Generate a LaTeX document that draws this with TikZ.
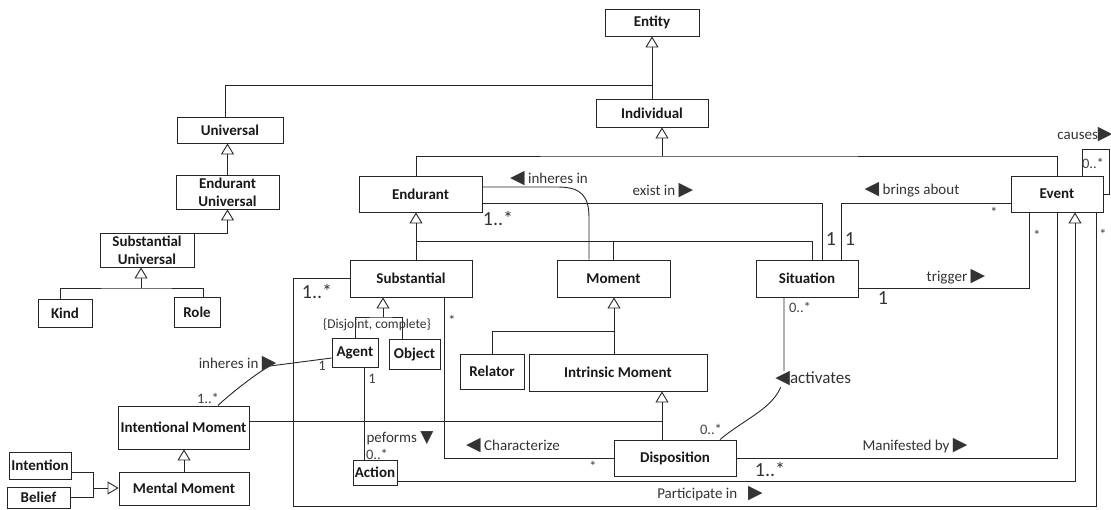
\documentclass[tikz,border=0pt]{standalone}
\usepackage{fontspec}
\setmainfont{Carlito}
\newfontfamily\symfont{DejaVu Sans}
\usepackage{tikz}
\usetikzlibrary{arrows.meta}

\newcommand\rtri{{\symfont\fontsize{19}{19}\selectfont\char"25B6}}
\newcommand\ltri{{\symfont\fontsize{19}{19}\selectfont\char"25C0}}
\newcommand\dtri{{\symfont\fontsize{17}{17}\selectfont\char"25BC}}

\begin{document}
\begin{tikzpicture}[x=1pt, y=-1pt, line width=0.9pt, draw=black!85,
        cls/.style={draw, fill=white, inner sep=0pt, align=center, text=black!90,
            font=\fontsize{15}{18}\selectfont\bfseries},
        lbl/.style={inner sep=0pt, text=black!80, font=\fontsize{15}{18}\selectfont},
        mbig/.style={inner sep=0pt, text=black!80, font=\fontsize{20}{22}\selectfont},
        msml/.style={inner sep=0pt, text=black!75, font=\fontsize{14.5}{16}\selectfont},
        gen/.style={-{Triangle[open, length=11pt, width=13pt]}}]
    \useasboundingbox (0,0) rectangle (1111,509);

    \node[cls, minimum width=94pt, minimum height=27pt] (entity) at (652,22.5) {Entity};
    \node[cls, minimum width=112pt, minimum height=28pt] (individual) at (652,113) {Individual};
    \node[cls, minimum width=106pt, minimum height=26pt] (universal) at (230,130) {Universal};
    \node[cls, minimum width=103pt, minimum height=34pt] (enduniv) at (227.5,192) {Endurant\\Universal};
    \node[cls, minimum width=94pt, minimum height=34pt] (substuniv) at (147,250) {Substantial\\Universal};
    \node[cls, minimum width=54pt, minimum height=28pt] (kind) at (65,313) {Kind};
    \node[cls, minimum width=46pt, minimum height=30pt] (role) at (197,312) {Role};
    \node[cls, minimum width=123pt, minimum height=36pt] (endurant) at (420.5,194) {Endurant};
    \node[cls, minimum width=92pt, minimum height=36pt] (event) at (1057,194) {Event};
    \node[cls, minimum width=122pt, minimum height=37pt] (substantial) at (411,278.5) {Substantial};
    \node[cls, minimum width=113pt, minimum height=37pt] (moment) at (613.5,278.5) {Moment};
    \node[cls, minimum width=102pt, minimum height=37pt] (situation) at (807,278.5) {Situation};
    \node[cls, minimum width=46pt, minimum height=29pt] (agent) at (355,352.5) {Agent};
    \node[cls, minimum width=51pt, minimum height=30pt] (object) at (414.5,354) {Object};
    \node[cls, minimum width=64pt, minimum height=35pt] (relator) at (492,371.5) {Relator};
    \node[cls, minimum width=178pt, minimum height=37pt] (intrinsic) at (618,372.5) {Intrinsic Moment};
    \node[cls, minimum width=131pt, minimum height=43pt] (intentional) at (183.5,427.5) {Intentional Moment};
    \node[cls, minimum width=130pt, minimum height=33pt] (mental) at (184,488.5) {Mental Moment};
    \node[cls, minimum width=62pt, minimum height=27pt] (intention) at (40,465.5) {Intention};
    \node[cls, minimum width=63pt, minimum height=21pt] (belief) at (38.5,497.5) {Belief};
    \node[cls, minimum width=44pt, minimum height=25pt] (action) at (375,472.5) {Action};
    \node[cls, minimum width=122pt, minimum height=36pt] (disposition) at (675,458) {Disposition};

    % generalizations
    \coordinate (unij) at (652,85);
    \coordinate (kr) at (141,288);
    \coordinate (ij) at (662,156);
    \coordinate (ej) at (416,241);
    \coordinate (sj) at (383,317);
    \coordinate (mj) at (614,331);
    \coordinate (dj) at (662,421);
    \coordinate (ib) at (93,488);

    \draw[gen] (individual.north) -- (entity.south);
    \draw ([xshift=-5pt]universal.north) |- (unij);
    \draw[gen] (enduniv.north) -- (enduniv.north |- universal.south);
    \draw[gen] ([yshift=-1pt]substuniv.north east) -| (enduniv.south);
    \draw ([xshift=-5pt]kind.north) |- (kr) -| ([xshift=6pt]role.north);
    \draw[gen] (kr) -- (kr |- substuniv.south);
    \draw ([xshift=-4pt]endurant.north) |- (ij) -| (event.north);
    \draw[gen] (ij) -- (ij |- individual.south);
    \draw ([xshift=5pt]substantial.north) -- (ej) -| ([xshift=5pt]situation.north);
    \draw (moment.north) -- (moment.north |- ej);
    \draw[gen] (ej) -- (ej |- endurant.south);
    \draw (agent.north) |- (sj) -| ([xshift=-12.5pt]object.north);
    \draw[gen] (sj) -- (sj |- substantial.south);
    \node[inner sep=0pt, text=black!80, font=\fontsize{13.5}{15}\selectfont] (dc) at (377,325) {\{Disjoint, complete\}};
    \draw (relator.north) |- (mj) -- (mj |- intrinsic.north);
    \draw[gen] (mj) -- (mj |- moment.south);
    \draw ([yshift=6.5pt]intentional.east) -- (dj);
    \draw (dj |- disposition.north) -- (dj);
    \draw[gen] (dj) -- (dj |- intrinsic.south);
    \draw[gen] (mental.north) -- (mental.north |- intentional.south);
    \draw ([yshift=-6.5pt]intention.east) -| (ib);
    \draw (belief.east) -| (ib);
    \draw[gen] (ib) -- (ib -| mental.west);
    \draw[gen] ([yshift=-8.5pt]action.east) -| ([xshift=18pt]event.south);

    % associations
    \coordinate (inh) at (589,218);
    \coordinate (cl) at (1109,149);
    \coordinate (act) at (784,370);
    \coordinate (ihj) at (270,366);
    \coordinate (pl) at (293,506);

    \draw ([yshift=7pt]endurant.east) -- ++(75,0) .. controls +(24,0) and +(0,-22) .. (inh) -- (inh |- moment.north);
    \draw ([yshift=-9pt]endurant.east) -| ([xshift=15pt]situation.north);
    \draw ([yshift=-9pt]event.west) -| ([xshift=34pt]situation.north);
    \draw ([yshift=-9.5pt]situation.east) -| ([xshift=-28pt]event.south);
    \draw (event.east) -| (cl) -| ([xshift=25pt]event.north);
    \draw ([xshift=-23pt]situation.south) -- (act) .. controls +(0,35) and +(30,-25) .. ([xshift=45pt]disposition.north);
    \draw ([xshift=34.5pt]intentional.north) .. controls +(10,-10) and +(-12,6) .. (ihj) -- ([yshift=-5.5pt]agent.west);
    \draw ([xshift=9pt]agent.south) -- ([xshift=9pt]agent.south |- action.north);
    \draw ([xshift=33pt]substantial.south) |- (disposition.west);
    \draw (disposition.east) -| (event.south);
    \draw (substantial.west) -| (pl) -| ([xshift=39pt]event.south);

    \node[lbl] (linh) at (549,179) {\ltri\ inheres in};
    \node[lbl] (lexist) at (663,191) {exist in \rtri};
    \node[lbl] (lbring) at (912,190) {\ltri\ brings about};
    \node[lbl] (ltrig) at (956,277) {trigger \rtri};
    \node[lbl] (lcause) at (1085,135) {causes\rtri};
    \node[lbl, fill=white, inner sep=1pt, anchor=west, font=\fontsize{17}{19}\selectfont] (lact) at (774,379) {\ltri activates};
    \node[lbl, anchor=east] (linh2) at (277,364) {inheres in \rtri};
    \node[lbl] (lperf) at (400,438) {peforms \dtri};
    \node[lbl] (lchar) at (513,446) {\ltri\ Characterize};
    \node[lbl] (lman) at (915,446) {Manifested by \rtri};
    \node[lbl] (lpart) at (710,494) {Participate in \enspace\rtri};

    % multiplicities
    \node[mbig] (m1) at (498,218) {1..*};
    \node[mbig] (m2) at (831,239) {1};
    \node[mbig] (m3) at (850,239) {1};
    \node[mbig] (m4) at (883,298) {1};
    \node[mbig] (m5) at (770,469) {1..*};
    \node[mbig] (m6) at (317,291) {1..*};
    \node[msml] (m7) at (994,212) {*};
    \node[msml] (m8) at (1037,235) {*};
    \node[msml] (m9) at (1103,234) {*};
    \node[msml] (m10) at (1093,163) {0..*};
    \node[msml] (m11) at (800,307) {0..*};
    \node[msml] (m12) at (711,429) {0..*};
    \node[msml] (m13) at (452,320) {*};
    \node[msml] (m14) at (593,466) {*};
    \node[msml] (m15) at (372,379) {1};
    \node[msml] (m16) at (377,454) {0..*};
    \node[msml] (m17) at (322,366) {1};
    \node[msml] (m18) at (208,398) {1..*};
\end{tikzpicture}
\end{document}
